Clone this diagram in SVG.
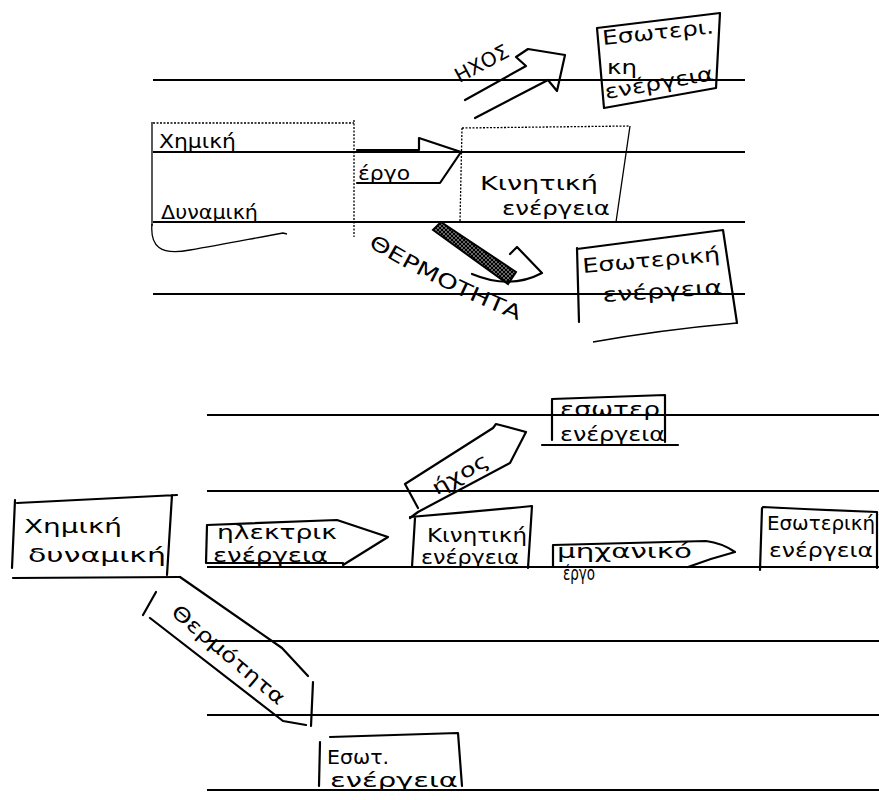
<svg xmlns="http://www.w3.org/2000/svg" width="879" height="800" viewBox="0 0 879 800">
  <defs>
    <style>
      .ln { stroke: #000; stroke-width: 2; fill: none; }
      .bx { stroke: #000; stroke-width: 2.2; fill: none; stroke-linejoin: round; stroke-linecap: round; }
      .thin { stroke: #000; stroke-width: 1.3; fill: none; }
      .dot { stroke: #000; stroke-width: 1.3; fill: none; stroke-dasharray: 2 1.5; }
      .t { font-family: "DejaVu Sans", "Liberation Sans", sans-serif; font-size: 20px; fill: #000; }
    </style>
    <pattern id="hatch" width="4" height="4" patternUnits="userSpaceOnUse">
      <rect width="4" height="4" fill="#666"/>
      <path d="M0,4 L4,0 M0,0 L4,4" stroke="#000" stroke-width="1"/>
    </pattern>
  </defs>
  <rect width="879" height="800" fill="#fff"/>

  <!-- ruled lines -->
  <g id="rules">
    <path class="ln" d="M153,80 H745 M153,152 H745 M153,222 H745 M153,294 H745"/>
    <path class="ln" d="M207,415 H879 M207,491 H879 M207,567 H879 M207,641 H879 M207,715 H879 M207,790 H879"/>
  </g>

  <!-- upper scheme -->
  <g id="chem-pot-top">
    <path class="dot" d="M153,123 H354"/>
    <path class="thin" d="M152,122 V226"/>
    <path class="thin" d="M152,224 C150,246 160,256 190,250 C225,244 255,238 283,233 l4,1"/>
    <path class="dot" d="M354,120 V237"/>
    <text class="t" x="159" y="148" font-size="23" textLength="77" lengthAdjust="spacingAndGlyphs">Χημική</text>
    <text class="t" x="161" y="219" font-size="23" textLength="97" lengthAdjust="spacingAndGlyphs">Δυναμική</text>
  </g>

  <g id="kinetic-top">
    <path class="dot" d="M462,128 L630,126 M462,128 L460,222"/>
    <path class="thin" d="M630,126 L616,222"/>
    <text class="t" x="480" y="190" font-size="23" textLength="118" lengthAdjust="spacingAndGlyphs">Κινητική</text>
    <text class="t" x="502" y="215" textLength="108" lengthAdjust="spacingAndGlyphs">ενέργεια</text>
  </g>

  <g id="internal-top-1">
    <path class="bx" d="M597,28 L720,13 L716,88 L604,108 Z"/>
    <text class="t" transform="translate(603,45) rotate(-6)" textLength="112" lengthAdjust="spacingAndGlyphs">Εσωτερι.</text>
    <text class="t" x="607" y="74" textLength="30" lengthAdjust="spacingAndGlyphs">κη</text>
    <text class="t" transform="translate(606,99) rotate(-10)" textLength="110" lengthAdjust="spacingAndGlyphs">ενέργεια</text>
  </g>

  <g id="internal-top-2">
    <path class="bx" d="M577,248 L579,322 M577,249 L723,230 L737,323"/>
    <path class="thin" d="M593,342 Q660,330 737,323"/>
    <text class="t" transform="translate(583,273) rotate(-5)" font-size="21" textLength="138" lengthAdjust="spacingAndGlyphs">Εσωτερική</text>
    <text class="t" transform="translate(603,302) rotate(-4)" font-size="21" textLength="120" lengthAdjust="spacingAndGlyphs">ενέργεια</text>
  </g>

  <!-- lower scheme -->
  <g id="chem-pot-bottom">
    <path class="bx" d="M17,503 L177,495 M15,500 L12,568 M172,495 L167,575 M13,578 L180,577"/>
    <text class="t" x="24" y="533" textLength="98" lengthAdjust="spacingAndGlyphs">Χημική</text>
    <text class="t" x="28" y="562" textLength="138" lengthAdjust="spacingAndGlyphs">δυναμική</text>
  </g>

  <g id="kinetic-bottom">
    <path class="bx" d="M415,518 L412,567 M410,517 Q470,512 532,506 L528,568"/>
    <text class="t" x="427" y="542" font-size="17" textLength="100" lengthAdjust="spacingAndGlyphs">Κινητική</text>
    <text class="t" x="421" y="564" font-size="17" textLength="98" lengthAdjust="spacingAndGlyphs">ενέργεια</text>
  </g>

  <g id="internal-bottom-1">
    <path class="bx" d="M552,400 L552,440 M552,399 L665,395 L665,442 M542,445 H678"/>
    <text class="t" x="560" y="416" font-size="18" textLength="100" lengthAdjust="spacingAndGlyphs">εσωτερ</text>
    <text class="t" x="560" y="441" font-size="18" textLength="105" lengthAdjust="spacingAndGlyphs">ενέργεια</text>
  </g>

  <g id="internal-bottom-2">
    <path class="bx" d="M762,508 L760,570 M763,507 Q820,510 877,512 V568"/>
    <text class="t" x="767" y="530" font-size="18" textLength="108" lengthAdjust="spacingAndGlyphs">Εσωτερική</text>
    <text class="t" x="769" y="557" font-size="18" textLength="104" lengthAdjust="spacingAndGlyphs">ενέργεια</text>
  </g>

  <g id="internal-bottom-3">
    <path class="bx" d="M320,742 L319,786 M330,737 L458,733 L462,786"/>
    <text class="t" x="327" y="764" font-size="17" textLength="62" lengthAdjust="spacingAndGlyphs">Εσωτ.</text>
    <text class="t" x="330" y="787" font-size="18" textLength="128" lengthAdjust="spacingAndGlyphs">ενέργεια</text>
  </g>

  <!-- arrows -->
  <g id="connectors">
    <!-- work -->
    <g id="work-top">
      <path class="bx" stroke-width="2.6" d="M357,150 H419 V138 L461,152 L440,183 H357"/>
      <text class="t" x="358" y="180" font-size="19" textLength="52" lengthAdjust="spacingAndGlyphs">έργο</text>
    </g>
    <!-- sound -->
    <g id="sound-top">
      <path class="bx" stroke-width="2.6" d="M465,100 L526,66 L516,57 L528,49 L565,55 L557,91 L548,80 L475,118"/>
      <text class="t" transform="translate(482,62) rotate(-28)" x="-30" y="8" textLength="58" lengthAdjust="spacingAndGlyphs">ΗΧΟΣ</text>
    </g>
    <!-- heat -->
    <g id="heat-top">
      <path d="M441,222 L516,272 L508,284 L433,230 Z" fill="url(#hatch)" stroke="#000" stroke-width="2"/>
      <path class="bx" d="M510,254 L517,247 L542,273 Q510,290 472,274"/>
      <path id="heatPath1" d="M368,246 Q440,290 532,326" fill="none"/>
      <text class="t" font-size="21"><textPath href="#heatPath1" textLength="168" lengthAdjust="spacingAndGlyphs">ΘΕΡΜΟΤΗΤΑ</textPath></text>
    </g>
    <!-- electric -->
    <g id="electric">
      <path class="bx" d="M207,525 L206,563 M207,525 L337,520 L388,537 L343,565 M207,563 H343"/>
      <text class="t" x="217" y="539" font-size="16" textLength="120" lengthAdjust="spacingAndGlyphs">ηλεκτρικ</text>
      <text class="t" x="213" y="562" font-size="15" textLength="115" lengthAdjust="spacingAndGlyphs">ενέργεια</text>
    </g>
    <!-- sound bottom -->
    <g id="sound-bottom">
      <path class="bx" d="M418,508 L405,484 L493,428 L496,424 L526,432 L510,463 L418,512 L410,518"/>
      <text class="t" transform="translate(460,474) rotate(-30)" x="-31" y="7" textLength="62" lengthAdjust="spacingAndGlyphs">ήχος</text>
    </g>
    <!-- mechanical work -->
    <g id="mech-work">
      <path class="bx" d="M553,545 L553,567 M553,545 L706,541 Q722,543 735,552 Q712,558 688,567"/>
      <text class="t" x="557" y="558" font-size="18" textLength="135" lengthAdjust="spacingAndGlyphs">μηχανικό</text>
      <text class="t" x="563" y="580" font-size="13" textLength="32" lengthAdjust="spacingAndGlyphs">έργο</text>
    </g>
    <!-- heat bottom -->
    <g id="heat-bottom">
      <path class="bx" d="M180,577 L282,648 L308,676 M313,682 L311,726 M150,618 L283,721 L306,725 M143,615 L156,592"/>
      <path id="heatPath2" d="M170,614 L290,716" fill="none"/>
      <text class="t"><textPath href="#heatPath2" textLength="142" lengthAdjust="spacingAndGlyphs">Θερμότητα</textPath></text>
    </g>
  </g>
</svg>
